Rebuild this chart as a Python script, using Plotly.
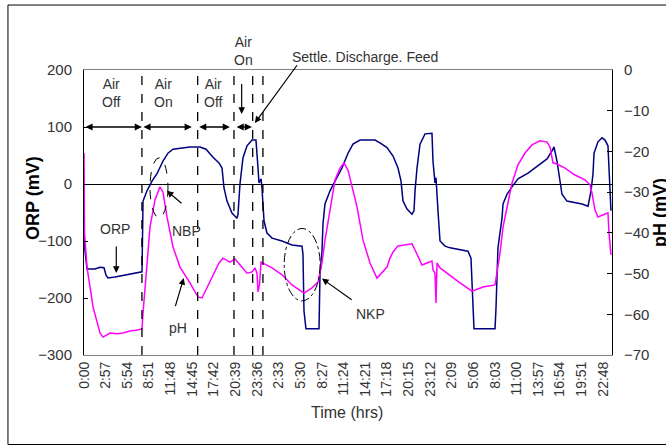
import plotly.graph_objects as go

# ---------------- data ----------------
tick_labels = ["0:00", "2:57", "5:54", "8:51", "11:48", "14:45", "17:42", "20:39", "23:36",
               "2:33", "5:30", "8:27", "11:24", "14:21", "17:18", "20:15", "23:12",
               "2:09", "5:06", "8:03", "11:00", "13:57", "16:54", "19:51", "22:48"]
tick_hours = [0, 2.95, 5.9, 8.85, 11.8, 14.75, 17.7, 20.65, 23.6, 26.55, 29.5, 32.45,
              35.4, 38.35, 41.3, 44.25, 47.2, 50.15, 53.1, 56.05, 59.0, 61.95, 64.9,
              67.85, 70.8]

orp_hours = [0, 0.14, 0.41, 1.5, 2.18, 2.73, 3.0, 3.27, 4.23, 5.59, 6.95, 7.91, 8.05, 8.59,
             9.27, 9.95, 10.77, 11.45, 12.14, 13.09, 14.45, 15.82, 16.64, 17.59, 18.41,
             18.82, 19.09, 19.5, 20.18, 20.86, 21.0, 21.27, 21.68, 22.23, 22.91, 23.45,
             23.59, 23.73, 23.86, 24.14, 24.27, 24.55, 24.95, 25.64, 27.0, 28.36, 29.73,
             29.86, 30.0, 30.27, 32.05, 32.18, 32.45, 32.59, 32.86, 33.55, 34.23, 35.18,
             36.0, 36.68, 37.64, 39.68, 40.36, 41.32, 42.14, 42.82, 43.23, 43.36, 43.5,
             44.05, 44.73, 45.0, 45.14, 45.41, 45.82, 46.5, 47.45, 47.59, 47.86, 48.0,
             48.14, 48.27, 48.55, 49.23, 49.91, 52.36, 52.77, 53.05, 53.18, 56.05, 56.18,
             56.45, 56.73, 57.0, 57.14, 57.68, 58.36, 59.18, 60.55, 61.91, 63.14, 63.82,
             64.09, 64.5, 64.91, 65.18, 65.86, 66.95, 67.91, 68.73, 69.14, 69.41, 69.55,
             70.09, 70.64, 71.05, 71.45, 71.59, 71.73, 71.86]
orp_mv = [-88, -118, -149, -149, -146, -147, -160, -165, -163, -160, -156, -154, -30, -12,
          5, 18, 40, 54, 61, 63, 65, 65, 61, 47, 37,
          28, -7, -30, -51, -60, -53, 0, 46, 67, 77, 77,
          40, 28, 2, 9, -7, -65, -86, -95, -100, -107, -109,
          -123, -223, -254, -254, -158, -118, -70, -35, -12, 5, 28,
          54, 70, 77, 77, 72, 64, 49, 28, 5, -18, -30,
          -44, -53, -47, -12, 28, 70, 88, 89, 40, 2, 11,
          -12, -47, -100, -109, -112, -118, -130, -218, -254, -254, -218,
          -112, -88, -60, -35, -18, -5, 9, 19, 32, 44, 58,
          65, 40, 0, -18, -30, -33, -35, -39, -12, 18, 54,
          74, 81, 77, 67, 28, -30, -47]

ph_hours = [0, 0.07, 0.41, 1.23, 2.18, 2.59, 3.55, 4.5, 5.32, 6.27, 7.09, 7.91, 8.05, 8.59,
            9.0, 9.68, 10.36, 10.77, 11.32, 12.14, 13.09, 14.45, 15.55, 16.09, 16.77,
            17.59, 18.41, 18.95, 19.91, 20.59, 21.55, 22.23, 22.91, 23.32, 23.59, 23.73,
            23.93, 24.14, 25.64, 27.0, 28.36, 30.0, 31.09, 31.91, 32.45, 32.86, 33.55,
            34.23, 34.91, 35.45, 36.0, 36.55, 37.23, 38.05, 39.0, 39.95, 40.64, 41.32,
            41.73, 42.14, 42.82, 43.77, 44.73, 45.14, 45.55, 46.09, 46.77, 47.45, 47.59,
            47.86, 48.0, 48.14, 48.55, 49.5, 51.27, 52.91, 54.41, 56.05, 56.32, 56.73,
            57.14, 57.68, 58.36, 59.18, 60.14, 61.09, 62.18, 63.14, 63.55, 63.95, 64.5,
            65.59, 66.95, 68.32, 69.0, 69.27, 69.68, 70.09, 70.77, 71.45, 71.59, 71.86]
ph_mv = [-20.4, -40, -48.4, -58.2, -64.6, -65.6, -64.6, -64.8, -64.6, -64.1, -63.9, -63.6,
         -59.7, -48.4, -38.6, -31.9, -28.7, -30, -36.1, -43.5, -48.4, -52.3, -55.8, -56,
         -53.5, -50.8, -47.4, -46.2, -47.2, -46.4, -48.4, -49.9, -49.6, -48.6, -49.9,
         -54.5, -52.8, -47.2, -48.6, -50.3, -52.8, -54.8, -53.5, -52.1, -47.4, -41.8,
         -34.4, -27, -24.1, -22.8, -24.6, -28.7, -33.6, -41.8, -47.4, -51.1, -49.6, -48.4,
         -46.2, -44.7, -43.2, -43, -42.7, -44.2, -45.9, -47.9, -47.4, -46.9, -49.1, -49.9,
         -57.2, -47.4, -48.6, -49.9, -52.3, -54.3, -53.3, -52.8, -49.9, -44.9, -38.6,
         -33.6, -27.8, -23.3, -20.4, -18.4, -17.4, -17.7, -18.9, -22.8, -23.1, -24.1,
         -25.8, -27, -28.2, -30.2, -34.4, -36.1, -35.6, -35.1, -40, -45.4]

phase_bounds = [7.9, 15.5, 20.45, 23.0, 24.4]          # dashed vertical lines (h)
phase_arrows = [(0, 7.9), (7.9, 14.7), (15.5, 19.9), (20.6, 22.9)]  # at ORP = 100
phase_labels = [(3.7, "Air<br>Off"), (10.8, "Air<br>On"), (17.6, "Air<br>Off")]

NAVY = "#000080"
MAGENTA = "#FF00FF"
FONT = "Liberation Sans, Arial, sans-serif"
TXT = "#333333"

fig = go.Figure()
fig.add_trace(go.Scatter(x=orp_hours, y=orp_mv, mode="lines", name="ORP",
                         line=dict(color=NAVY, width=1.5), yaxis="y"))
fig.add_trace(go.Scatter(x=ph_hours, y=ph_mv, mode="lines", name="pH",
                         line=dict(color=MAGENTA, width=1.5), yaxis="y2"))

shapes = []
for b in phase_bounds:
    shapes.append(dict(type="line", xref="x", yref="paper", x0=b, x1=b, y0=0, y1=1,
                       line=dict(color="black", width=1.3, dash="dash")))
# ellipses around NBP and NKP
shapes.append(dict(type="circle", xref="x", yref="y", x0=9.0, x1=11.45, y0=-59, y1=46,
                   line=dict(color="black", width=1, dash="dash")))
shapes.append(dict(type="circle", xref="x", yref="y", x0=27.3, x1=32.2, y0=-205, y1=-78,
                   line=dict(color="black", width=1, dash="dashdot")))
# outer chart border
shapes.append(dict(type="rect", xref="paper", yref="paper", x0=-0.144, x1=1.11,
                   y0=-0.314, y1=1.228, line=dict(color="black", width=1)))

ann = []
for a, b in phase_arrows:
    ann.append(dict(x=b, y=100, ax=a, ay=100, xref="x", yref="y", axref="x", ayref="y",
                    text="", showarrow=True, arrowhead=2, startarrowhead=2,
                    arrowside="end+start", arrowsize=1.1, startarrowsize=1.1,
                    arrowwidth=1.3, arrowcolor="black"))
for x, t in phase_labels:
    ann.append(dict(x=x, y=160, xref="x", yref="y", text=t, showarrow=False,
                    xanchor="center", yanchor="middle",
                    font=dict(size=14, color=TXT, family=FONT)))
ann.append(dict(x=21.7, y=1.067, xref="x", yref="paper", text="Air<br>On", showarrow=False,
                xanchor="center", yanchor="middle",
                font=dict(size=14, color=TXT, family=FONT)))
ann.append(dict(x=21.5, y=123, ax=21.5, ay=178, xref="x", yref="y", axref="x", ayref="y",
                text="", showarrow=True, arrowhead=2, arrowsize=1.1, arrowwidth=1.2,
                arrowcolor="black"))
ann.append(dict(x=38.3, y=1.046, xref="x", yref="paper", text="Settle. Discharge. Feed",
                xanchor="center", yanchor="middle",
                showarrow=False, font=dict(size=14, color=TXT, family=FONT)))
ann.append(dict(x=23.3, y=107, ax=29.2, ay=211, xref="x", yref="y", axref="x", ayref="y",
                text="", showarrow=True, arrowhead=2, arrowsize=1.1, arrowwidth=1.2,
                arrowcolor="black"))
# series / feature labels with arrows
labels = [
    ("ORP", 4.2, -79, (4.4, -156), (4.4, -107)),
    ("pH", 12.8, -252, (13.6, -165), (12.4, -217)),
    ("NBP", 14.0, -82, (11.3, -12), (13.5, -36)),
    ("NKP", 39.0, -228, (32.45, -166), (36.7, -205)),
]
for t, tx, ty, head, tail in labels:
    ann.append(dict(x=tx, y=ty, xref="x", yref="y", text=t, showarrow=False,
                    xanchor="center", yanchor="middle",
                    font=dict(size=14, color=TXT, family=FONT)))
    ann.append(dict(x=head[0], y=head[1], ax=tail[0], ay=tail[1], xref="x", yref="y",
                    axref="x", ayref="y", text="", showarrow=True, arrowhead=2,
                    arrowsize=1.1, arrowwidth=1.2, arrowcolor="black"))
# axis titles
ann.append(dict(x=-0.0966, y=0.551, xref="paper", yref="paper", text="<b>ORP (mV)</b>",
                xanchor="center", yanchor="middle",
                textangle=-90, showarrow=False, font=dict(size=18, color="black", family=FONT)))
ann.append(dict(x=1.09, y=0.5, xref="paper", yref="paper", text="<b>pH (mV)</b>",
                xanchor="center", yanchor="middle",
                textangle=-90, showarrow=False, font=dict(size=18, color="black", family=FONT)))
ann.append(dict(x=0.498, y=-0.2035, xref="paper", yref="paper", text="Time (hrs)",
                xanchor="center", yanchor="middle",
                showarrow=False, font=dict(size=16, color=TXT, family=FONT)))

fig.update_layout(
    width=666, height=446,
    margin=dict(l=84, r=54, t=70, b=91),
    plot_bgcolor="white", paper_bgcolor="white",
    showlegend=False,
    font=dict(family=FONT, size=14, color="#222222"),
    shapes=shapes, annotations=ann,
    xaxis=dict(range=[0, 72], tickmode="array", tickvals=tick_hours, ticktext=tick_labels,
               tickangle=-90, tickfont=dict(size=14, color=TXT), showline=True,
               linecolor="#808080", linewidth=1, mirror=True, showgrid=False,
               zeroline=False, ticks=""),
    yaxis=dict(range=[-300, 200], dtick=100, showline=True, linecolor="black", linewidth=1,
               ticks="inside", ticklen=4, tickcolor="black", showgrid=False,
               zeroline=True, zerolinecolor="black", zerolinewidth=1,
               ticklabelstandoff=8, tickfont=dict(size=15, color=TXT)),
    yaxis2=dict(range=[-70, 0], dtick=10, overlaying="y", side="right", showline=True,
                linecolor="black", linewidth=1, ticks="inside", ticklen=5,
                tickcolor="black", showgrid=False, zeroline=False,
                ticklabelstandoff=8, tickfont=dict(size=15, color=TXT)),
)

fig.write_html("out.html")
